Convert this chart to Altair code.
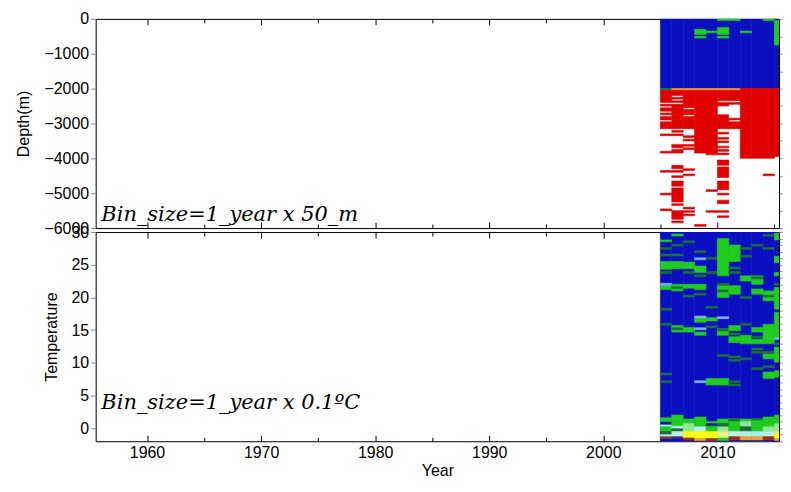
import altair as alt
import pandas as pd

YEARS = list(range(2005, 2016))

# ---------------- top panel (depth, m, positive downward) ----------------
TOP_BLUE = (0, 2000)
TOP_GREEN = {
    2008: [(300, 450), (500, 550)],
    2009: [(350, 400)],
    2010: [(0, 50), (250, 450), (500, 550)],
    2011: [(0, 50)],
    2012: [(350, 400)],
    2014: [(0, 50)],
    2015: [(50, 750)],
}
TOP_EDGE = {2005: "dkgreen", 2006: "orange", 2007: "orange", 2008: "orange",
            2009: "orange", 2010: "orange", 2011: "orange"}
TOP_RED = {
    2005: [(2050, 2400), (2450, 2500), (2550, 2650), (2700, 2750), (2800, 2900), (2950, 3150),
           (3300, 3350), (3800, 3850), (4350, 4400), (5000, 5050), (5450, 5500)],
    2006: [(2050, 2200), (2250, 2300), (2350, 2400), (2450, 3150), (3200, 3250), (3300, 3350),
           (3600, 3700), (3750, 3850), (4200, 4300), (4350, 4400), (4500, 4550), (4650, 4800),
           (4850, 5250), (5300, 5350), (5500, 5700), (5700, 5750), (5800, 5850)],
    2007: [(2050, 2550), (2600, 2750), (2800, 3150), (3350, 3400), (3450, 3500), (3600, 3650),
           (3700, 3750), (4300, 4350), (4450, 4500), (5400, 5450), (5500, 5550), (5600, 5650)],
    2008: [(2050, 3850), (5900, 5950)],
    2009: [(2050, 3900), (4900, 4950), (5500, 5550)],
    2010: [(2050, 2350), (2400, 2500), (2750, 3150), (3250, 3300), (3400, 3450), (3500, 3550),
           (3650, 3700), (3750, 3800), (3850, 3900), (4050, 4200), (4250, 4550), (4650, 4900),
           (5000, 5050), (5200, 5300), (5500, 5550), (5650, 5700)],
    2011: [(2050, 2350), (2400, 2450), (2850, 2900), (2950, 3150)],
    2012: [(2000, 4000)],
    2013: [(2000, 4000)],
    2014: [(2000, 4000), (4450, 4500)],
    2015: [(2000, 3950)],
}

# ---------------- bottom panel (temperature, degC) ----------------
BOT_BLUE = (-2, 30)
BOT_GREEN = {
    2005: [(24.3, 25.5), (21.2, 21.8), (28.5, 28.8)],
    2006: [(29.4, 29.7), (24.4, 25.5), (21.0, 22.0), (14.7, 15.7)],
    2007: [(24.4, 25.4), (21.4, 22.0), (14.7, 15.4)],
    2008: [(23.8, 24.8), (21.2, 22.0), (16.2, 16.9), (14.2, 14.7)],
    2009: [(6.6, 7.6), (16.4, 16.9)],
    2010: [(23.3, 29.0), (20.0, 22.0), (14.2, 15.2), (6.6, 7.6)],
    2011: [(25.5, 28.0), (20.5, 21.8), (14.9, 15.7), (13.1, 14.0)],
    2012: [(22.5, 23.3), (12.9, 14.2)],
    2013: [(22.0, 23.3), (20.5, 21.3), (14.7, 15.4), (12.9, 13.6)],
    2014: [(19.5, 21.0), (12.9, 15.9), (10.6, 11.4), (7.6, 8.6)],
    2015: [(25.3, 26.3), (23.3, 23.8), (18.2, 21.5), (13.7, 17.7), (10.1, 12.4), (7.8, 8.8), (28.8, 29.8)],
}
BOT_DARK = {
    2005: [27.5, 26.5, 23.8, 18.2, 15.9, 8.3, 7.1],
    2006: [26.5, 21.5, 15.2, 28.0],
    2007: [23.8, 20.2, 28.5],
    2008: [23.3, 20.5, 27.0],
    2009: [23.8, 18.5, 15.5, 26.0],
    2010: [22.0, 15.0, 11.1, 21.0],
    2011: [24.5, 23.8, 14.4, 10.9, 10.4, 7.1, 6.6],
    2012: [26.3, 15.9, 10.6, 27.5, 20.0],
    2013: [23.0, 13.9, 12.1, 11.6, 9.1, 28.0],
    2014: [27.5, 9.4, 11.6, 20.2, 29.5],
    2015: [22.0, 12.9],
}
BOT_LIGHT = {2005: [22.0], 2008: [25.9, 17.0, 15.2, 7.1], 2010: [16.9], 2015: [13.7]}
BOT_COLD = {
    2005: [(1.0, 1.6, "green"), (0.2, 0.5, "ltcyan"), (-0.5, 0.2, "green"), (-1.0, -0.5, "dkgreen"), (-1.3, -1.0, "ltcyan"), (-1.6, -1.3, "brown")],
    2006: [(1.0, 2.0, "green"), (0.3, 1.0, "green"), (-0.1, 0.3, "ltcyan"), (-0.5, -0.1, "dkgreen"), (-1.3, -0.5, "ltcyan"), (-1.6, -1.3, "purple")],
    2007: [(0.7, 1.4, "green"), (-0.5, 0.7, "ltgreen"), (-1.5, -0.5, "yellow"), (-1.8, -1.5, "brown")],
    2008: [(1.0, 1.7, "green"), (0.2, 1.0, "green"), (-0.5, 0.2, "ltcyan"), (-1.6, -0.5, "yellow"), (-1.9, -1.6, "orange")],
    2009: [(0.7, 1.0, "green"), (0.3, 0.7, "navy"), (-0.5, 0.3, "green"), (-1.6, -0.5, "yellow"), (-1.9, -1.6, "brown")],
    2010: [(0.7, 1.4, "green"), (0.2, 0.7, "dkgreen"), (-0.5, 0.2, "ltgreen"), (-1.5, -0.5, "ltyellow"), (-1.9, -1.5, "green")],
    2011: [(1.0, 1.5, "dkgreen"), (0.2, 1.0, "green"), (-0.5, 0.2, "green"), (-1.3, -0.5, "ltcyan"), (-1.8, -1.3, "brown")],
    2012: [(1.0, 1.4, "green"), (0.2, 1.0, "ltgreen"), (-0.5, 0.2, "dkgreen"), (-1.3, -0.5, "ltcyan"), (-1.8, -1.3, "orange")],
    2013: [(1.3, 1.5, "dkgreen"), (0.7, 1.2, "green"), (-0.5, 0.7, "green"), (-1.3, -0.5, "cyan"), (-1.8, -1.3, "orange")],
    2014: [(1.0, 1.7, "green"), (0.2, 1.0, "green"), (-0.5, 0.2, "ltgreen"), (-1.3, -0.5, "ltcyan"), (-1.8, -1.3, "brown")],
    2015: [(0.7, 2.0, "green"), (-0.5, 0.7, "ltgreen"), (-1.6, -0.5, "yellow"), (-1.9, -1.6, "orange")],
}

CATS = ["blue", "green", "dkgreen", "red", "orange", "ltblue", "ltcyan", "ltgreen",
        "yellow", "ltyellow", "cyan", "brown", "purple", "navy"]
COLORS = ["#0a10c0", "#1fcc1f", "#1c6e3c", "#e00000", "#f0a030", "#80b4f0", "#b8f2e6", "#90e890",
          "#ffff1a", "#eef08a", "#a0f0f0", "#a0301e", "#4a2a8a", "#1a2a80"]

ANNOT_TOP = "Bin_size=1_year x 50_m"
ANNOT_BOT = "Bin_size=1_year x 0.1\u00baC"
ANNOT_TOP_ANCHOR = (1956.0, -5800)
ANNOT_BOT_ANCHOR = (1956.0, 2.9)

MAJOR_X = list(range(1960, 2016, 10))
MINOR_X = list(range(1965, 2016, 10))

# ---------------- build tables ----------------
def row(y, a, b, cat):
    return {"x0": y, "x1": y + 1, "y0": a, "y1": b, "cat": cat}

top_base = pd.DataFrame([row(y, -TOP_BLUE[0], -TOP_BLUE[1], "blue") for y in YEARS])
top_over = []
for y in YEARS:
    for a, b in TOP_GREEN.get(y, []):
        top_over.append(row(y, -a, -b, "green"))
    if y in TOP_EDGE:
        top_over.append(row(y, -2000, -2050, TOP_EDGE[y]))
    for a, b in TOP_RED.get(y, []):
        top_over.append(row(y, -a, -b, "red"))
top_over = pd.DataFrame(top_over)

bot_base = pd.DataFrame([row(y, BOT_BLUE[0], BOT_BLUE[1], "blue") for y in YEARS])
bot_over = []
for y in YEARS:
    for a, b in BOT_GREEN.get(y, []):
        bot_over.append(row(y, a, b, "green"))
    for t in BOT_DARK.get(y, []):
        bot_over.append(row(y, t - 0.15, t + 0.15, "dkgreen"))
    for t in BOT_LIGHT.get(y, []):
        bot_over.append(row(y, t - 0.15, t + 0.15, "ltblue"))
    for a, b, c in BOT_COLD.get(y, []):
        bot_over.append(row(y, a, b, c))
bot_over = pd.DataFrame(bot_over)

W, H = 686, 210
FONT = "Liberation Sans"
xscale = alt.Scale(domain=[1955.5, 2015.4], nice=False, zero=False)
cscale = alt.Scale(domain=CATS, range=COLORS)


def rect_layer(df, yscale, yaxis):
    return alt.Chart(df).mark_rect(clip=True, strokeWidth=0.6).encode(
        x=alt.X("x0:Q", scale=xscale, axis=None),
        x2="x1:Q",
        y=alt.Y("y0:Q", scale=yscale, axis=yaxis),
        y2="y1:Q",
        color=alt.Color("cat:N", scale=cscale, legend=None),
        stroke=alt.Stroke("cat:N", scale=cscale, legend=None),
    )


def xaxis_layer(df, yscale, axis):
    return alt.Chart(df).mark_point(opacity=0).encode(
        x=alt.X("x0:Q", scale=xscale, axis=axis),
        y=alt.Y("y0:Q", scale=yscale, axis=None),
    )


def tick_axis(orient, values, size):
    return alt.Axis(orient=orient, values=values, tickSize=size, offset=-size, labels=False,
                    domain=False, grid=False, title=None, tickColor="black", tickWidth=1)


def annot(text, anchor, yscale):
    df = pd.DataFrame({"t": [text], "x": [anchor[0]], "y": [anchor[1]]})
    return alt.Chart(df).mark_text(
        align="left", baseline="alphabetic", font="DejaVu Serif", fontStyle="italic",
        fontSize=21, color="black"
    ).encode(text="t:N",
             x=alt.X("x:Q", scale=xscale, axis=None),
             y=alt.Y("y:Q", scale=yscale, axis=None))


def panel(base, over, yscale, ymajor, yminor, ytitle, text, anchor, labelled):
    yax_major = alt.Axis(values=ymajor, tickSize=5, title=ytitle, grid=False, domain=False,
                         format="d", titlePadding=12, labelPadding=2)
    yax_minor = alt.Axis(values=yminor, tickSize=3, labels=False, title=None, grid=False, domain=False)
    layers = [
        rect_layer(base, yscale, yax_major),
        rect_layer(over, yscale, yax_minor),
        xaxis_layer(base, yscale, tick_axis("bottom", MAJOR_X, 6)),
        xaxis_layer(base, yscale, tick_axis("bottom", MINOR_X, 4)),
        xaxis_layer(base, yscale, tick_axis("top", MAJOR_X, 6)),
        xaxis_layer(base, yscale, tick_axis("top", MINOR_X, 4)),
    ]
    if labelled:
        layers.append(xaxis_layer(base, yscale, alt.Axis(orient="bottom", values=MAJOR_X, ticks=False,
                                                         domain=False, grid=False, title="Year",
                                                         format="d", labelPadding=3, titlePadding=2)))
    layers.append(annot(text, anchor, yscale))
    return alt.layer(*layers).resolve_axis(x="independent", y="independent").properties(width=W, height=H)


top = panel(top_base, top_over, alt.Scale(domain=[-6000, 0], nice=False, zero=False),
            list(range(-6000, 1, 1000)), list(range(-6000, 1, 500)), "Depth(m)",
            ANNOT_TOP, ANNOT_TOP_ANCHOR, False)
bottom = panel(bot_base, bot_over, alt.Scale(domain=[-2, 30], nice=False, zero=False),
               list(range(0, 31, 5)), list(range(-2, 31, 1)), "Temperature",
               ANNOT_BOT, ANNOT_BOT_ANCHOR, True)

chart = alt.vconcat(top, bottom, spacing=4, bounds="flush").properties(
    padding={"left": 7, "top": 1, "right": 0, "bottom": 0}
).configure_view(stroke="black", strokeWidth=1).configure_axis(
    labelFont=FONT, labelFontSize=16, labelColor="black", titleFont=FONT, titleFontSize=16,
    titleFontWeight="normal", titleColor="black"
)

chart.save("out.html", embed_options={"renderer": "svg", "actions": False})
